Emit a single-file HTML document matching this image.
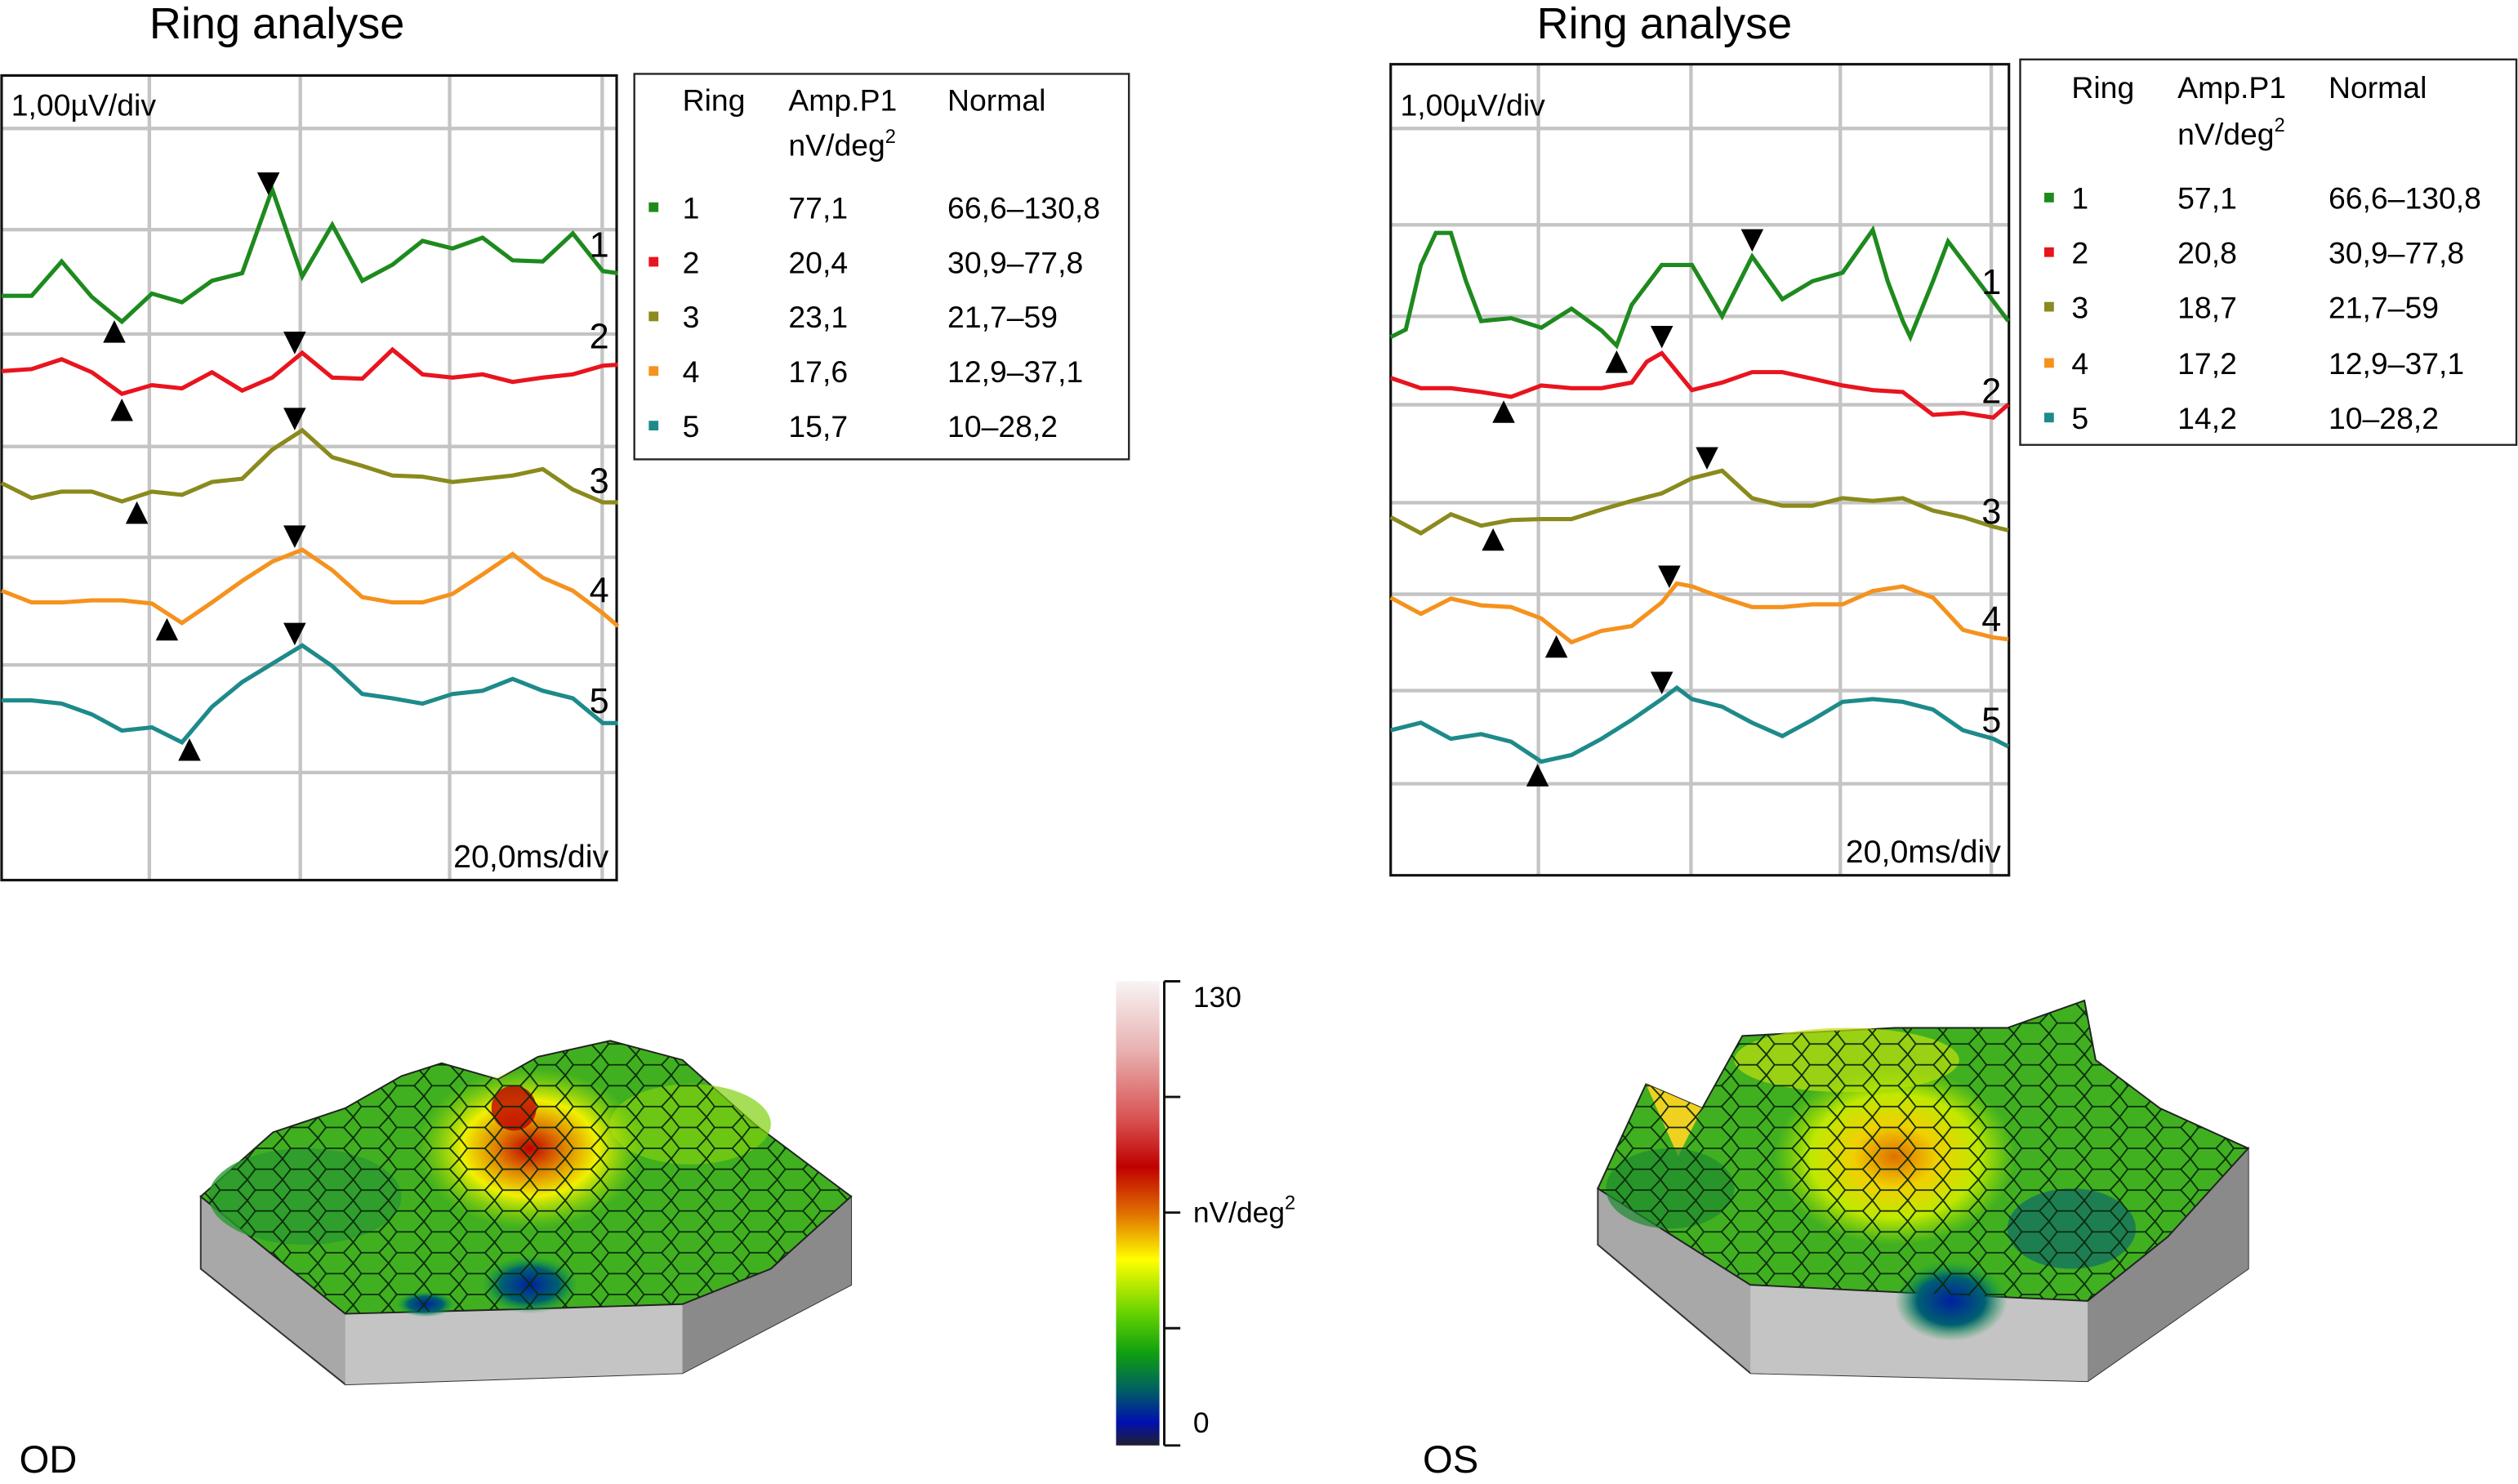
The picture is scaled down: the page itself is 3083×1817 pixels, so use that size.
<!DOCTYPE html>
<html><head><meta charset="utf-8"><style>
html,body{margin:0;padding:0;background:#fff;}
svg{display:block;font-family:"Liberation Sans",Arial,sans-serif;}
</style></head><body>
<svg id="main" width="3083" height="1817" viewBox="0 0 1568 924" preserveAspectRatio="none" xmlns="http://www.w3.org/2000/svg">
<defs>
<pattern id="hex" width="22" height="13" patternUnits="userSpaceOnUse">
<path d="M0,6.5 L5,0 L16,0 L22,6.5 L16,13 L5,13 Z" fill="none" stroke="#0a2a0a" stroke-width="0.9"/>
</pattern>
<linearGradient id="cbar" x1="0" y1="0" x2="0" y2="1">
<stop offset="0" stop-color="#f8f4f4"/><stop offset="0.15" stop-color="#e8b0b0"/><stop offset="0.3" stop-color="#d85050"/>
<stop offset="0.4" stop-color="#c00000"/><stop offset="0.5" stop-color="#e07000"/><stop offset="0.6" stop-color="#ffff00"/>
<stop offset="0.72" stop-color="#60d000"/><stop offset="0.8" stop-color="#10a010"/><stop offset="0.88" stop-color="#006060"/>
<stop offset="0.95" stop-color="#0010b0"/><stop offset="1" stop-color="#202030"/>
</linearGradient>
<radialGradient id="peakL" cx="0.5" cy="0.5" r="0.5"><stop offset="0" stop-color="#c00000"/><stop offset="0.3" stop-color="#e08000"/><stop offset="0.6" stop-color="#f0f000"/><stop offset="1" stop-color="#a0e000" stop-opacity="0"/></radialGradient>
<radialGradient id="peakR" cx="0.5" cy="0.5" r="0.5"><stop offset="0" stop-color="#e07000"/><stop offset="0.35" stop-color="#f0d000"/><stop offset="0.7" stop-color="#c0e800"/><stop offset="1" stop-color="#a0e000" stop-opacity="0"/></radialGradient>
<radialGradient id="blue" cx="0.5" cy="0.5" r="0.5"><stop offset="0" stop-color="#0020a0"/><stop offset="0.6" stop-color="#006070"/><stop offset="1" stop-color="#10a040" stop-opacity="0"/></radialGradient>
</defs>

<text x="93" y="24" font-size="27.5">Ring analyse</text>
<text x="957" y="24" font-size="27.5">Ring analyse</text>

<g id="left-chart"></g>
<g id="right-chart"></g>

<g font-size="19">
<rect x="395" y="46" width="308" height="240" fill="none" stroke="#222" stroke-width="1.2"/>
<text x="425" y="69">Ring</text><text x="491" y="69">Amp.P1</text><text x="590" y="69">Normal</text>
<text x="491" y="97">nV/deg<tspan font-size="12" dy="-8">2</tspan></text>
<rect x="404" y="126" width="6" height="6" fill="#1e8a1e"/><text x="425" y="136">1</text><text x="491" y="136">77,1</text><text x="590" y="136">66,6–130,8</text>
<rect x="404" y="160" width="6" height="6" fill="#e8141e"/><text x="425" y="170">2</text><text x="491" y="170">20,4</text><text x="590" y="170">30,9–77,8</text>
<rect x="404" y="194" width="6" height="6" fill="#8a8a1e"/><text x="425" y="204">3</text><text x="491" y="204">23,1</text><text x="590" y="204">21,7–59</text>
<rect x="404" y="228" width="6" height="6" fill="#f5921e"/><text x="425" y="238">4</text><text x="491" y="238">17,6</text><text x="590" y="238">12,9–37,1</text>
<rect x="404" y="262" width="6" height="6" fill="#1e8a8a"/><text x="425" y="272">5</text><text x="491" y="272">15,7</text><text x="590" y="272">10–28,2</text>
</g>
<g font-size="19">
<rect x="1258" y="37" width="309" height="240" fill="none" stroke="#222" stroke-width="1.2"/>
<text x="1290" y="61">Ring</text><text x="1356" y="61">Amp.P1</text><text x="1450" y="61">Normal</text>
<text x="1356" y="90">nV/deg<tspan font-size="12" dy="-8">2</tspan></text>
<rect x="1273" y="120" width="6" height="6" fill="#1e8a1e"/><text x="1290" y="130">1</text><text x="1356" y="130">57,1</text><text x="1450" y="130">66,6–130,8</text>
<rect x="1273" y="154" width="6" height="6" fill="#e8141e"/><text x="1290" y="164">2</text><text x="1356" y="164">20,8</text><text x="1450" y="164">30,9–77,8</text>
<rect x="1273" y="188" width="6" height="6" fill="#8a8a1e"/><text x="1290" y="198">3</text><text x="1356" y="198">18,7</text><text x="1450" y="198">21,7–59</text>
<rect x="1273" y="223" width="6" height="6" fill="#f5921e"/><text x="1290" y="233">4</text><text x="1356" y="233">17,2</text><text x="1450" y="233">12,9–37,1</text>
<rect x="1273" y="257" width="6" height="6" fill="#1e8a8a"/><text x="1290" y="267">5</text><text x="1356" y="267">14,2</text><text x="1450" y="267">10–28,2</text>
</g>

<g>
<polygon points="125,745 215,818 425,812 530,745 530,800 425,855 215,862 125,790" fill="#a8a8a8" stroke="#333" stroke-width="1"/>
<polygon points="215,818 425,812 425,855 215,862" fill="#c4c4c4"/>
<polygon points="425,812 530,745 530,800 425,855" fill="#8a8a8a"/>
<polygon points="125,745 170,705 215,690 250,670 275,662 310,672 335,658 380,648 425,660 470,700 530,745 480,790 425,812 330,815 215,818" fill="#40b020" stroke="#222" stroke-width="1"/>
<ellipse cx="190" cy="745" rx="60" ry="30" fill="#2a9a30" opacity="0.8"/>
<ellipse cx="430" cy="700" rx="50" ry="25" fill="#80d010" opacity="0.7"/>
<ellipse cx="330" cy="715" rx="70" ry="50" fill="url(#peakL)"/>
<ellipse cx="320" cy="690" rx="14" ry="14" fill="#c00000" opacity="0.8"/>
<ellipse cx="330" cy="800" rx="30" ry="18" fill="url(#blue)"/>
<ellipse cx="265" cy="812" rx="18" ry="8" fill="url(#blue)"/>
<polygon points="125,745 170,705 215,690 250,670 275,662 310,672 335,658 380,648 425,660 470,700 530,745 480,790 425,812 330,815 215,818" fill="url(#hex)"/>
</g>
<g>
<polygon points="995,740 1090,800 1300,810 1400,715 1400,790 1300,860 1090,855 995,775" fill="#a8a8a8" stroke="#333" stroke-width="1"/>
<polygon points="1090,800 1300,810 1300,860 1090,855" fill="#c4c4c4"/>
<polygon points="1300,810 1400,715 1400,790 1300,860" fill="#8a8a8a"/>
<polygon points="995,740 1025,675 1060,690 1085,645 1180,640 1250,640 1298,623 1305,660 1345,690 1400,715 1350,770 1300,810 1190,805 1090,800" fill="#40b020" stroke="#222" stroke-width="1"/>
<ellipse cx="1150" cy="660" rx="70" ry="20" fill="#c0e010" opacity="0.7"/>
<polygon points="1025,675 1060,690 1045,720" fill="#f0d020"/>
<ellipse cx="1180" cy="720" rx="75" ry="55" fill="url(#peakR)"/>
<ellipse cx="1215" cy="810" rx="35" ry="25" fill="url(#blue)"/>
<ellipse cx="1290" cy="765" rx="40" ry="25" fill="#106a6a" opacity="0.7"/>
<ellipse cx="1040" cy="740" rx="40" ry="25" fill="#1e8a30" opacity="0.7"/>
<polygon points="995,740 1025,675 1060,690 1085,645 1180,640 1250,640 1298,623 1305,660 1345,690 1400,715 1350,770 1300,810 1190,805 1090,800" fill="url(#hex)"/>
</g>

<g font-size="18">
<rect x="695" y="611" width="27" height="289" fill="url(#cbar)"/>
<line x1="725" y1="611" x2="725" y2="900" stroke="#111" stroke-width="1.5"/>
<line x1="725" y1="611" x2="735" y2="611" stroke="#111" stroke-width="1.5"/>
<line x1="725" y1="683" x2="735" y2="683" stroke="#111" stroke-width="1.5"/>
<line x1="725" y1="755" x2="735" y2="755" stroke="#111" stroke-width="1.5"/>
<line x1="725" y1="827" x2="735" y2="827" stroke="#111" stroke-width="1.5"/>
<line x1="725" y1="900" x2="735" y2="900" stroke="#111" stroke-width="1.5"/>
<text x="743" y="627">130</text>
<text x="743" y="761">nV/deg<tspan font-size="12" dy="-8">2</tspan></text>
<text x="743" y="892">0</text>
</g>
<text x="12" y="917" font-size="24">OD</text>
<text x="886" y="917" font-size="24">OS</text>
</svg>
<script>
const colors = ["#1e8a1e","#e8141e","#8a8a1e","#f5921e","#1e8a8a"];
const ringNames = ["1","2","3","4","5"];
const timesL = [0,4,8,12,16,20,24,28,32,36,40,44,48,52,56,60,64,68,72,76,80,82];
const odRing1 = [5.43,5.43,5.75,5.42,5.19,5.45,5.37,5.57,5.64,6.42,5.61,6.09,5.57,5.72,5.94,5.87,5.97,5.76,5.75,6.01,5.66,5.64];
const odRing2 = [4.73,4.75,4.84,4.72,4.52,4.60,4.57,4.72,4.55,4.67,4.90,4.67,4.66,4.93,4.70,4.67,4.70,4.63,4.67,4.70,4.78,4.79];
const odRing3 = [3.69,3.55,3.61,3.61,3.52,3.61,3.58,3.70,3.73,4.00,4.18,3.93,3.85,3.76,3.75,3.70,3.73,3.76,3.82,3.63,3.51,3.51];
const odRing4 = [2.69,2.58,2.58,2.60,2.60,2.57,2.39,2.58,2.78,2.96,3.07,2.88,2.63,2.58,2.58,2.66,2.84,3.03,2.81,2.69,2.48,2.36];
const odRing5 = [1.67,1.67,1.64,1.54,1.39,1.42,1.28,1.61,1.84,2.01,2.18,1.99,1.73,1.69,1.64,1.73,1.76,1.87,1.76,1.69,1.46,1.46];
const odTroughT = [15,16,18,22,25];
const odPeakT = [35.5,39,39,39,39];
const osTimes1 = [0,2,4,6,8,10,12,16,20,24,28,30,32,36,40,44,48,52,56,60,64,66,68,69,72,74,78,82];
const osRing1 = [5.68,5.76,6.44,6.78,6.78,6.27,5.85,5.88,5.78,5.98,5.75,5.59,6.02,6.44,6.44,5.90,6.53,6.08,6.27,6.36,6.81,6.27,5.85,5.68,6.27,6.69,6.27,5.85];
const osTimes2 = [0,4,8,12,16,20,24,28,32,34,36,40,44,48,52,56,60,64,68,72,76,80,82];
const osRing2 = [5.25,5.14,5.14,5.10,5.05,5.17,5.14,5.14,5.20,5.42,5.51,5.12,5.20,5.31,5.31,5.24,5.17,5.12,5.10,4.86,4.88,4.83,4.97];
const osTimes3 = [0,4,8,12,16,20,24,28,32,36,40,44,48,52,56,60,64,68,72,76,80,82];
const osRing3 = [3.78,3.61,3.81,3.69,3.75,3.76,3.76,3.86,3.95,4.03,4.19,4.27,3.98,3.90,3.90,3.98,3.95,3.98,3.85,3.78,3.68,3.64];
const osTimes45 = [0,4,8,12,16,20,24,28,32,36,38,40,44,48,52,56,60,64,68,72,76,80,82];
const osRing4 = [2.93,2.76,2.92,2.85,2.83,2.71,2.46,2.58,2.63,2.88,3.08,3.05,2.93,2.83,2.83,2.86,2.86,3.00,3.05,2.93,2.59,2.51,2.49];
const osRing5 = [1.53,1.61,1.44,1.49,1.41,1.20,1.27,1.44,1.64,1.86,1.98,1.86,1.78,1.61,1.47,1.64,1.83,1.86,1.83,1.75,1.53,1.44,1.36];
const osTroughT = [30,15,13.6,22,19.5];
const osPeakT = [48,36,42,37,36];

const NS = "http://www.w3.org/2000/svg";
function mk(tag, attrs, parent){const e=document.createElementNS(NS,tag);for(const k in attrs)e.setAttribute(k,attrs[k]);parent.appendChild(e);return e;}
function interp(ts, vs, t){for(let i=0;i<ts.length-1;i++){if(t>=ts[i]&&t<=ts[i+1]){const f=(t-ts[i])/(ts[i+1]-ts[i]);return vs[i]+f*(vs[i+1]-vs[i]);}}return vs[vs.length-1];}

function drawChart(g, cfg){
  const box = cfg.box;
  const x = t => box.x + t*cfg.pxPerMs;
  const y = v => box.y + box.h - v*cfg.pxPerUv;
  for(const gx of cfg.vgrid){
    const l=mk("line",{x1:gx,y1:box.y,x2:gx,y2:box.y+box.h,stroke:"#c4c4c4","stroke-width":2.2},g);
    
    
  }
  for(const gy of cfg.hgrid){
    const l=mk("line",{x1:box.x,y1:gy,x2:box.x+box.w,y2:gy,stroke:"#c4c4c4","stroke-width":2.2},g);
    
    
  }
  const fr=mk("rect",{x:box.x,y:box.y,width:box.w,height:box.h,fill:"none",stroke:"#111","stroke-width":1.6},g);
  
  
  const t1=mk("text",{x:box.x+6,y:box.y+cfg.topLabelDy,"font-size":19},g); t1.textContent="1,00µV/div";
  
  
  const t2=mk("text",{x:box.x+box.w-5,y:box.y+box.h-8,"font-size":20,"text-anchor":"end"},g); t2.textContent="20,0ms/div";
  
  
  cfg.series.forEach((s,i)=>{
    const d = s.t.map((t,j)=>(j?"L":"M")+x(t).toFixed(1)+","+y(s.v[j]).toFixed(1)).join(" ");
    const p=mk("path",{d:d,fill:"none",stroke:colors[i],"stroke-width":2.6,"stroke-linejoin":"miter"},g);
    
    
    const tx=x(cfg.trough[i]), ty=y(interp(s.t,s.v,cfg.trough[i]));
    const a=mk("polygon",{points:`${tx-7},${ty+17} ${tx+7},${ty+17} ${tx},${ty+3}`,fill:"#000"},g);
    
    
    const px=x(cfg.peak[i]), py=y(interp(s.t,s.v,cfg.peak[i]));
    const b=mk("polygon",{points:`${px-7},${py-17} ${px+7},${py-17} ${px},${py-3}`,fill:"#000"},g);
    
    
    const lb=mk("text",{x:box.x+box.w-17,y:cfg.labelY[i],"font-size":22},g); lb.textContent=ringNames[i];
    
    
  });
}

drawChart(document.getElementById("left-chart"),{
  box:{x:1,y:47,w:383,h:501}, pxPerMs:4.68, pxPerUv:67, topLabelDy:25,
  vgrid:[93,187,280,375], hgrid:[80,143,208,278,347,414,481],
  series:[{t:timesL,v:odRing1},{t:timesL,v:odRing2},{t:timesL,v:odRing3},{t:timesL,v:odRing4},{t:timesL,v:odRing5}],
  trough:odTroughT, peak:odPeakT, labelY:[160,217,307,375,444]
});
drawChart(document.getElementById("right-chart"),{
  box:{x:866,y:40,w:385,h:505}, pxPerMs:4.69, pxPerUv:59, topLabelDy:32,
  vgrid:[958,1053,1146,1240], hgrid:[80,140,197,252,313,370,430,488],
  series:[{t:osTimes1,v:osRing1},{t:osTimes2,v:osRing2},{t:osTimes3,v:osRing3},{t:osTimes45,v:osRing4},{t:osTimes45,v:osRing5}],
  trough:osTroughT, peak:osPeakT, labelY:[183,251,326,393,456]
});
</script>
</body></html>
